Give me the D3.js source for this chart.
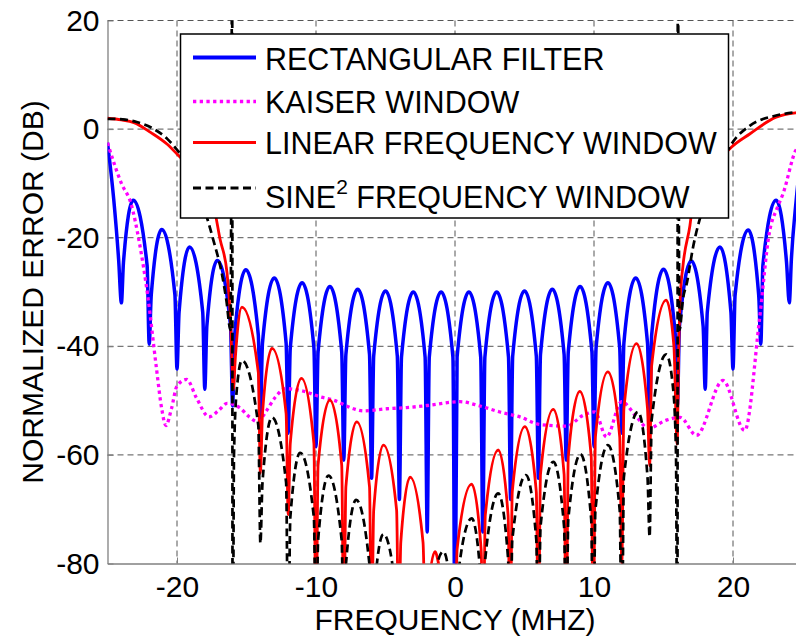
<!DOCTYPE html>
<html>
<head>
<meta charset="utf-8">
<script src="https://cdnjs.cloudflare.com/ajax/libs/d3/7.8.5/d3.min.js"></script>
<style>
    body { margin: 0; background: #fff; }
    text { font-family: "Liberation Sans", Arial, sans-serif; fill: #000; }
</style>
</head>
<body>
<div id="chart"></div>
<script>
//axis ticks
var xTicks = [-20, -10, 0, 10, 20];
var yTicks = [-80, -60, -40, -20, 0, 20];

//[frequency MHz, normalized error dB]
var rectFilter = [
    [-25, -2.5], [-24.55, -13], [-24.2, -24], [-24, -32],
    [-23.85, -24.5], [-23.15, -13.1], [-22.15, -25.1], [-22, -39.6],
    [-21.85, -30.5], [-21.1, -18.5], [-20.15, -30.5], [-20, -44.2],
    [-19.85, -33.7], [-19.1, -21.7], [-18.15, -33.7], [-18, -47.9],
    [-17.85, -36.2], [-17.1, -24.2], [-16.15, -36.2], [-16, -51],
    [-15.85, -37.9], [-15.05, -25.9], [-14.15, -37.9], [-14, -53.5],
    [-13.85, -39.4], [-13, -27.4], [-12.15, -39.4], [-12, -56],
    [-11.85, -40.3], [-11, -28.3], [-10.15, -40.3], [-10, -58.5],
    [-9.85, -41], [-9, -29], [-8.15, -41], [-8, -61],
    [-7.85, -41.5], [-7, -29.5], [-6.15, -41.5], [-6, -64.3],
    [-5.85, -41.8], [-5, -29.8], [-4.15, -41.8], [-4, -68.2],
    [-3.85, -42], [-3, -30], [-2.15, -42], [-2, -74.2],
    [-1.85, -42], [-1, -30], [-0.15, -42], [0, -95],
    [0.15, -42], [1, -30], [1.85, -42], [2, -74.2],
    [2.15, -42], [3, -30], [3.85, -42], [4, -68.2],
    [4.15, -41.8], [5, -29.8], [5.85, -41.8], [6, -64.3],
    [6.15, -41.5], [7, -29.5], [7.85, -41.5], [8, -61],
    [8.15, -41], [9, -29], [9.85, -41], [10, -58.5],
    [10.15, -40.3], [11, -28.3], [11.85, -40.3], [12, -56],
    [12.15, -39.4], [13, -27.4], [13.85, -39.4], [14, -53.5],
    [14.15, -37.9], [15, -25.8], [15.85, -37.9], [16, -51],
    [16.15, -36.3], [17, -24.3], [17.85, -36.3], [18, -47.9],
    [18.15, -33.7], [19.06, -21.7], [19.85, -33.7], [20, -44.2],
    [20.15, -30.6], [21.1, -18.6], [21.85, -30.6], [22, -39.6],
    [22.15, -25.1], [23.1, -13.1], [23.85, -24.5], [24.05, -32],
    [24.2, -24], [24.55, -13], [25, -2.5]
];

var kaiserWindow = [
    [-25, -2.5], [-24.5, -6.5], [-24, -10], [-23.3, -13.8], [-22.7, -21],
    [-22.1, -30.8], [-21.5, -43.6], [-21.1, -51.5], [-20.8, -54.6], [-20.4, -51.5],
    [-20, -47.3], [-19.3, -46.1], [-18.6, -49.5], [-17.7, -53], [-17, -51.8],
    [-16.4, -50.5], [-15.5, -51.3], [-14.8, -53], [-14.2, -53.9], [-13.6, -52],
    [-12.9, -49.3], [-12.2, -47.8], [-11, -48.2], [-9.7, -49.3], [-8.75, -49.9],
    [-7.3, -51.5], [-6.6, -51.9], [-4.9, -51.5], [-3.5, -51.3], [-2, -50.9],
    [0.36, -50.2], [1.8, -51], [3.23, -52.1], [4.67, -53], [6.1, -54.4],
    [8.03, -54.7], [9.22, -52.7], [10.06, -52.1], [10.9, -56.7], [11.98, -50.2],
    [13.06, -53], [13.9, -55.1], [15.2, -53.6], [16.2, -53.1], [17.37, -56.4],
    [19.28, -46.3], [20.84, -55.5], [21.9, -35.2], [22.6, -19.3], [23.2, -14.4],
    [23.6, -11.9], [24.5, -4], [25, -2.5]
];

var linearWindow = [
    [-25, 2], [-24, 1.7], [-23.1, 1.2], [-21.9, -0.6], [-20.7, -2.8], [-20, -4.6],
    [-18.6, -8.5], [-17.4, -13.8], [-16.9, -20.3], [-16.4, -26.5], [-16.15, -35],
    [-15.95, -48], [-15.8, -42], [-15.33, -32.8], [-14.15, -44.8], [-14, -63.4],
    [-13.85, -52.4], [-13.17, -40.4], [-12.15, -52.4], [-12, -71],
    [-11.85, -57.9], [-11.05, -45.9], [-10.15, -57.9], [-10, -95],
    [-9.85, -61.9], [-9, -49.9], [-8.15, -61.9], [-8, -95],
    [-7.85, -65.9], [-7.07, -53.9], [-6.15, -65.9], [-6, -95],
    [-5.85, -70.2], [-5.15, -58.2], [-4.2, -70.2], [-4.05, -95],
    [-3.9, -76.1], [-3.23, -64.1], [-2.3, -76.1], [-2.1, -95],
    [-1.95, -86], [-1.44, -77.8], [-1.1, -81], [-0.5, -88], [0, -95],
    [0.15, -77.4], [1.2, -65.4], [1.88, -77.4], [2.03, -95],
    [2.18, -71.1], [3.11, -59.1], [3.82, -71.1], [3.97, -95],
    [4.12, -66.8], [5.03, -54.8], [5.85, -66.8], [6, -95],
    [6.15, -63.6], [7.07, -51.6], [7.85, -63.6], [8, -95],
    [8.15, -60.3], [8.98, -48.3], [9.8, -60.3], [9.95, -95],
    [10.1, -56.7], [11, -44.7], [11.85, -56.7], [12, -80],
    [12.15, -51.5], [13.06, -39.5], [13.85, -51.5], [14, -62],
    [14.15, -43.5], [15.2, -31.5], [15.75, -40], [15.98, -58], [16.1, -40],
    [16.2, -31.3], [16.4, -25.2], [16.9, -17.8], [17.1, -14.1], [18.5, -7.5],
    [19.9, -3.3], [21.2, -0.9], [23.1, 2.2], [24.5, 3], [25, 3.1]
];

var sine2Window = [
    [-25, 1.9], [-23.9, 1.8], [-22.9, 1.3], [-21.8, 0.2], [-20.7, -1.8], [-20, -3.8],
    [-18.8, -8.5], [-18.1, -14.1], [-17.4, -20.3], [-16.7, -27.6], [-16.45, -31.5],
    [-16.15, -37], [-16.03, 30], [-16, -110], [-15.9, -60], [-15.7, -48],
    [-15.33, -42.6], [-14.15, -54.6], [-14, -76.3],
    [-13.85, -65.1], [-13.17, -53.1], [-12.15, -65.1], [-12, -98],
    [-11.85, -71.6], [-11.14, -59.6], [-10.15, -71.6], [-10, -98],
    [-9.85, -75.8], [-9.1, -63.8], [-8.15, -75.8], [-8, -98],
    [-7.85, -80.3], [-7.11, -68.3], [-6.15, -80.3], [-6, -98],
    [-5.85, -86.6], [-5.15, -74.6], [-4.2, -86.6], [-4.05, -98],
    [-3, -86], [-2, -98], [-1.85, -89.8], [-0.84, -77.8], [-0.15, -89.8], [0, -98],
    [0.15, -83.7], [1.2, -71.7], [1.88, -83.7], [2.03, -98],
    [2.18, -79.1], [3.11, -67.1], [3.82, -79.1], [3.97, -98],
    [4.12, -75.7], [5.1, -63.7], [5.85, -75.7], [6, -98],
    [6.15, -73.3], [7.07, -61.3], [7.85, -73.3], [8, -98],
    [8.15, -71.9], [9.03, -59.9], [9.8, -71.9], [9.95, -98],
    [10.1, -70.2], [11, -58.2], [11.85, -70.2], [12, -98],
    [12.15, -64.1], [13.17, -52.1], [13.85, -64.1], [14, -75.1],
    [14.15, -53.5], [15.2, -41.5], [15.7, -48], [15.9, -60], [16, -110],
    [16.03, 30], [16.15, -37], [16.4, -31.3], [16.7, -28.1], [17.1, -22.1],
    [17.9, -14.1], [18.8, -8.5], [19.9, -2.7], [21.2, 0.6], [23.1, 2.5],
    [24.5, 3.1], [25, 3.2]
];

var legendLabels = ['RECTANGULAR FILTER', 'KAISER WINDOW', 'LINEAR FREQUENCY WINDOW', 'SINE^2 FREQUENCY WINDOW'];

var width = 796, height = 638;
var plot = {left: 107.5, right: 802.5, top: 20.5, bottom: 563.5};

var svg = d3.select('#chart').append('svg')
    .attr('width', width)
    .attr('height', height)
    .style('display', 'block')
    .style('background', '#fff');

var x = d3.scaleLinear().domain([-25, 25]).range([plot.left, plot.right]);
var y = d3.scaleLinear().domain([-80, 20]).range([plot.bottom, plot.top]);

//clip the curves to the axes box
svg.append('defs').append('clipPath')
    .attr('id', 'plotClip')
    .append('rect')
    .attr('x', plot.left)
    .attr('y', plot.top)
    .attr('width', plot.right - plot.left)
    .attr('height', plot.bottom - plot.top);

//dashed grid
var grid = svg.append('g').attr('class', 'grid')
    .attr('stroke', '#555')
    .attr('stroke-width', 1)
    .attr('stroke-dasharray', '6,4');

grid.selectAll('line.gx')
    .data(xTicks)
    .enter()
    .append('line')
    .attr('x1', function (d) { return x(d); })
    .attr('x2', function (d) { return x(d); })
    .attr('y1', plot.top)
    .attr('y2', plot.bottom);

grid.selectAll('line.gy')
    .data(yTicks.filter(function (d) { return d > -80; }))
    .enter()
    .append('line')
    .attr('x1', plot.left)
    .attr('x2', plot.right)
    .attr('y1', function (d) { return y(d); })
    .attr('y2', function (d) { return y(d); });

//plain hyphen for negative labels, like the original
var plainFormat = function (d) { return String(d); };

//axes, ticks pointing inwards
var xAxis = svg.append('g')
    .attr('transform', 'translate(0,' + plot.bottom + ')')
    .call(d3.axisBottom(x).tickValues(xTicks).tickFormat(plainFormat)
        .tickSize(-6).tickSizeOuter(0).tickPadding(12));

var yAxis = svg.append('g')
    .attr('transform', 'translate(' + plot.left + ',0)')
    .call(d3.axisLeft(y).tickValues(yTicks).tickFormat(plainFormat)
        .tickSize(-6).tickSizeOuter(0).tickPadding(8));

[xAxis, yAxis].forEach(function (a) {
    a.select('.domain').attr('stroke', '#808080').attr('stroke-width', 1.3);
    a.selectAll('.tick line').attr('stroke', '#808080');
    a.selectAll('.tick text')
        .style('font-family', '"Liberation Sans", Arial, sans-serif')
        .style('font-size', '30px')
        .attr('fill', '#000');
});

//axis titles
svg.append('text')
    .attr('x', x(0))
    .attr('y', 630)
    .attr('text-anchor', 'middle')
    .style('font-size', '30px')
    .text('FREQUENCY (MHZ)');

svg.append('text')
    .attr('transform', 'translate(43,' + ((plot.top + plot.bottom) / 2) + ') rotate(-90)')
    .attr('text-anchor', 'middle')
    .style('font-size', '30px')
    .text('NORMALIZED ERROR (DB)');

//curves
var series = [
    {data: rectFilter, color: '#0000ff', width: 3.5, dash: null},
    {data: kaiserWindow, color: '#ff00ff', width: 3.3, dash: '3.3,3.4'},
    {data: linearWindow, color: '#ff0000', width: 2.8, dash: null},
    {data: sine2Window, color: '#000000', width: 2.7, dash: '8,4.5'}
];

var line = d3.line()
    .x(function (d) { return x(d[0]); })
    .y(function (d) { return y(d[1]); })
    .curve(d3.curveMonotoneX);

svg.append('g')
    .attr('clip-path', 'url(#plotClip)')
    .selectAll('path')
    .data(series)
    .enter()
    .append('path')
    .attr('fill', 'none')
    .attr('stroke', function (d) { return d.color; })
    .attr('stroke-width', function (d) { return d.width; })
    .attr('stroke-dasharray', function (d) { return d.dash; })
    .attr('stroke-linejoin', 'round')
    .attr('d', function (d) { return line(d.data); });

//legend box
var legend = svg.append('g').attr('class', 'legend');
legend.append('rect')
    .attr('x', 180.5)
    .attr('y', 34)
    .attr('width', 548)
    .attr('height', 184)
    .attr('fill', '#fff')
    .attr('stroke', '#000')
    .attr('stroke-width', 1.5);

var rowLine = [57.5, 101.5, 142.5, 188];
var rowText = [70, 113, 154, 207.5];

legend.selectAll('line')
    .data(series)
    .enter()
    .append('line')
    .attr('x1', 193)
    .attr('x2', 256)
    .attr('y1', function (d, i) { return rowLine[i]; })
    .attr('y2', function (d, i) { return rowLine[i]; })
    .attr('stroke', function (d) { return d.color; })
    .attr('stroke-width', function (d) { return d.width + 0.3; })
    .attr('stroke-dasharray', function (d) { return d.dash; });

legend.selectAll('text')
    .data(legendLabels)
    .enter()
    .append('text')
    .attr('x', 265)
    .attr('y', function (d, i) { return rowText[i]; })
    .style('font-size', '30.5px')
    .each(function (d) {
        var t = d3.select(this);
        var parts = d.split('^');
        if (parts.length == 1) {
            t.text(d);
        } else {
            //superscript for SINE^2
            t.append('tspan').text(parts[0]);
            t.append('tspan').attr('dy', -14).style('font-size', '21px').text(parts[1].charAt(0));
            t.append('tspan').attr('dy', 14).text(parts[1].slice(1));
        }
    });
</script>
</body>
</html>
